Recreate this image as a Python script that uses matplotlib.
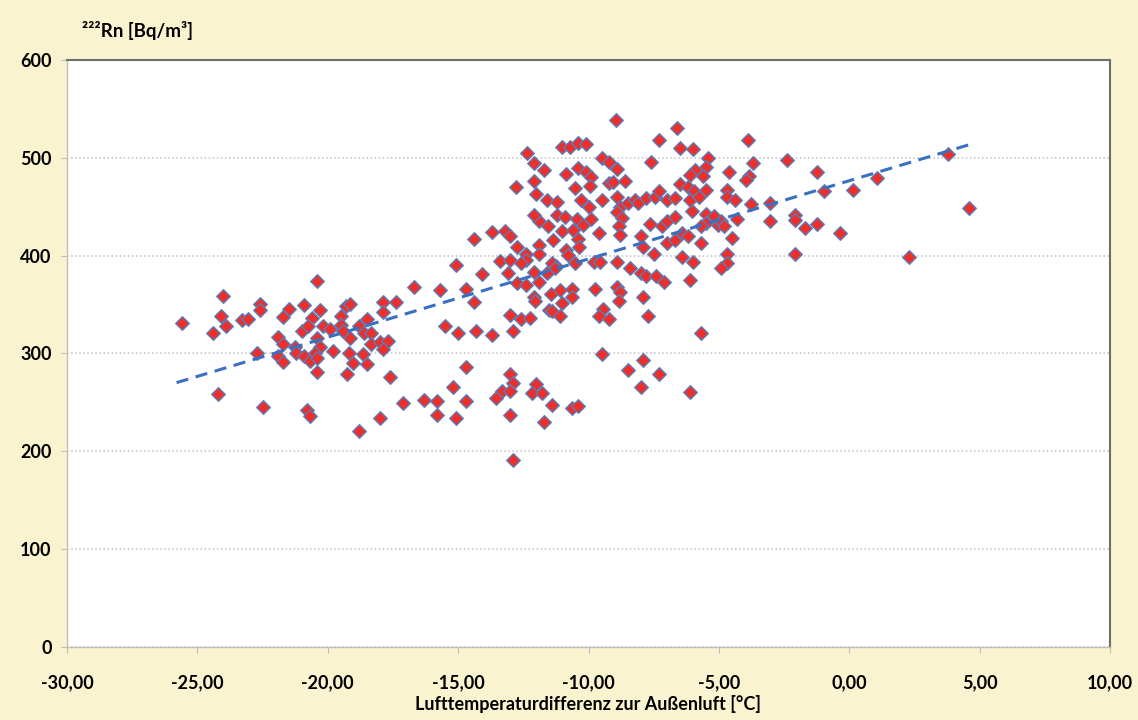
import numpy as np
import matplotlib
matplotlib.use('Agg')
import matplotlib.pyplot as plt
from matplotlib.ticker import FuncFormatter, MultipleLocator

# Temperature difference to outside air [°C] and Rn-222 [Bq/m3]
temp_diff = [
    -25.6, -24.0, -24.1, -23.9, -24.4, -23.3, -23.05, -22.6, -22.6, -22.7, -24.2, -22.5,
    -20.4, -20.9, -21.5, -21.7, -21.9, -21.7, -21.9, -21.7, -21.0, -21.26, -21.2, -20.6,
    -20.3, -20.75, -20.2, -19.9, -20.4, -20.3, -20.9, -20.7, -20.5, -20.4, -20.4, -20.8,
    -20.7, -19.8, -19.5, -19.3, -19.15, -19.5, -19.4, -19.15, -19.2, -19.05, -19.25, -18.8,
    -18.5, -18.6, -18.35, -18.35, -18.65, -18.5,
    -14.4, -13.7, -13.2, -13.0, -15.1, -14.1, -16.7, -15.7, -14.7, -14.4, -17.9, -17.4,
    -17.9, -18.0, -17.7, -17.9, -17.6, -15.5, -15.0, -14.3, -13.7, -12.9, -13.0, -12.6,
    -12.25, -14.7, -15.2, -17.1, -16.3, -15.8, -14.7, -18.0, -15.8, -15.1, -18.8, -13.0,
    -12.9, -13.3, -13.0, -13.55, -13.0, -12.0, -12.15, -11.8, -11.4, -11.7, -12.9,
    -12.75, -12.4, -12.4, -11.9, -11.9, -11.35, -11.55, -11.9,
    -13.4, -13.0, -12.6, -13.1, -12.75, -12.4, -12.1, -11.9, -11.5, -11.25, -12.1, -12.05,
    -11.5, -11.45, -11.1,
    -8.95, -6.6, -7.3, -11.0, -10.7, -10.4, -10.1, -6.5, -6.0, -9.5, -9.2, -8.9,
    -7.6, -5.4, -5.5, -5.9, -6.1, -5.6, -11.7, -10.85, -10.4, -10.1, -9.9, -10.5,
    -9.95, -9.2, -9.05, -8.6, -11.6, -11.2, -10.3, -10.0, -9.5, -8.9, -8.8, -8.5,
    -8.2, -8.1, -7.8, -7.45, -7.3, -7.0, -6.7, -6.5, -6.2, -5.95, -6.1, -5.75,
    -5.5, -12.1, -11.2, -10.9, -11.0, -10.45, -10.2, -9.9, -9.6, -10.6, -10.4, -10.35,
    -8.9, -8.7, -8.85, -8.8, -7.65, -7.2, -7.0, -6.7, -6.05, -5.5, -5.5, -5.2,
    -8.0, -7.9, -7.5, -7.0, -6.7, -6.4, -6.2, -5.7, -11.4, -11.3, -11.6, -10.85,
    -10.8, -10.5, -9.8, -9.55, -8.9, -8.4, -8.0, -7.8, -7.4, -7.1, -6.4, -6.0,
    -6.1, -10.65, -10.65, -9.75, -8.9, -8.8, -7.9,
    -11.0, -11.4, -11.1, -8.85, -9.45, -9.6, -9.2, -7.7, -5.7, -9.5, -7.9, -8.5,
    -7.3, -8.0, -6.1, -10.65, -10.4,
    -3.9, -3.7, -2.4, -4.6, -3.85, -3.95, -1.25, 1.05, -4.7, -4.7, -4.4, -0.95,
    0.15, -3.75, -3.05, -5.7, -5.05, -4.9, -4.8, -4.3, -3.05, -2.1, -2.1, -1.7,
    -1.25, -0.35, -4.5, -4.7, -4.7, -4.9, -2.1,
    3.8, 4.6, 2.3,
    -12.35, -12.1, -12.1, -12.8, -12.0,
]
radon = [
    331, 359, 338, 328, 321, 334, 335, 351, 344, 300, 259, 245,
    374, 350, 345, 337, 317, 310, 297, 291, 323, 307, 300, 336,
    344, 328, 328, 325, 316, 307, 297, 292, 300, 295, 281, 242,
    236, 303, 338, 349, 351, 329, 323, 316, 300, 290, 279, 328,
    335, 321, 321, 310, 299, 289,
    417, 424, 425, 420, 390, 381, 368, 365, 366, 353, 353, 353,
    342, 312, 313, 305, 276, 328, 321, 323, 319, 323, 339, 335,
    336, 286, 266, 249, 252, 251, 251, 234, 237, 234, 221, 279,
    270, 262, 262, 254, 237, 269, 260, 260, 247, 230, 191,
    409, 402, 396, 411, 402, 416, 430, 435,
    395, 396, 392, 382, 372, 370, 383, 373, 384, 389, 358, 354,
    344, 361, 365,
    539, 530, 518, 511, 511, 515, 514, 510, 509, 500, 496, 489,
    496, 500, 491, 488, 482, 481, 488, 483, 490, 486, 480, 469,
    471, 474, 475, 476, 457, 455, 457, 450, 457, 460, 450, 454,
    457, 454, 459, 460, 466, 457, 459, 473, 470, 466, 457, 460,
    467, 442, 442, 439, 425, 437, 431, 437, 423, 426, 417, 409,
    445, 438, 430, 421, 432, 430, 435, 440, 446, 443, 433, 441,
    420, 409, 402, 413, 416, 423, 420, 413, 392, 387, 382, 406,
    401, 392, 394, 394, 393, 387, 382, 379, 379, 373, 399, 394,
    375, 366, 358, 366, 368, 363, 358,
    352, 343, 338, 354, 345, 338, 335, 338, 321, 299, 293, 283,
    279, 266, 261, 244, 246,
    518, 495, 498, 486, 481, 477, 486, 479, 467, 460, 457, 466,
    467, 453, 454, 430, 431, 435, 430, 437, 435, 442, 436, 428,
    432, 423, 418, 402, 392, 387, 402,
    504, 449, 399,
    505, 495, 476, 470, 463,
]

# linear trend line as drawn in the chart (slope, intercept, x range)
trend_slope = 8.0
trend_intercept = 476.6
trend_range = [-25.8, 4.8]

bg = '#FAF3CF'
plt.rcParams['font.family'] = 'Lato'
plt.rcParams['font.weight'] = 'bold'

fig = plt.figure(figsize=(11.38, 7.2), dpi=100, facecolor=bg)
ax = fig.add_axes([0.0589, 0.1014, 0.9165, 0.8153])
ax.set_facecolor('white')

ax.scatter(temp_diff, radon, marker='D', s=48, color='#EC2F2A',
           edgecolors='#5B7DB8', linewidths=1.0, zorder=3)

tx = np.array(trend_range)
ax.plot(tx, trend_slope * tx + trend_intercept, linestyle=(0, (4, 2.5)),
        color='#3A70C0', linewidth=2.2, zorder=4)

ax.set_xlim(-30, 10)
ax.set_ylim(0, 600)
ax.xaxis.set_major_locator(MultipleLocator(5))
ax.yaxis.set_major_locator(MultipleLocator(100))
ax.xaxis.set_major_formatter(FuncFormatter(lambda v, p: f'{v:.2f}'.replace('.', ',')))
ax.yaxis.set_major_formatter(FuncFormatter(lambda v, p: f'{v:.0f}'))

ax.grid(axis='y', color='#C0C0C0', linestyle=':', linewidth=1.1, zorder=0)
ax.set_axisbelow(True)

for side in ['left', 'bottom']:
    ax.spines[side].set_color('#BEBEBE')
    ax.spines[side].set_linewidth(1.0)
for side in ['top', 'right']:
    ax.spines[side].set_color('#6E6E6E')
    ax.spines[side].set_linewidth(1.5)

ax.tick_params(axis='both', length=4, color='#BEBEBE', labelsize=13)
ax.tick_params(axis='x', pad=15.5)
ax.tick_params(axis='y', pad=7)

fig.text(0.072, 0.958, '²²²Rn [Bq/m³]', fontsize=13.5, ha='left', va='center')
fig.text(0.517, 0.022, 'Lufttemperaturdifferenz zur Außenluft [°C]', fontsize=13,
         ha='center', va='center')

fig.savefig('out.png', dpi=100, facecolor=bg)
